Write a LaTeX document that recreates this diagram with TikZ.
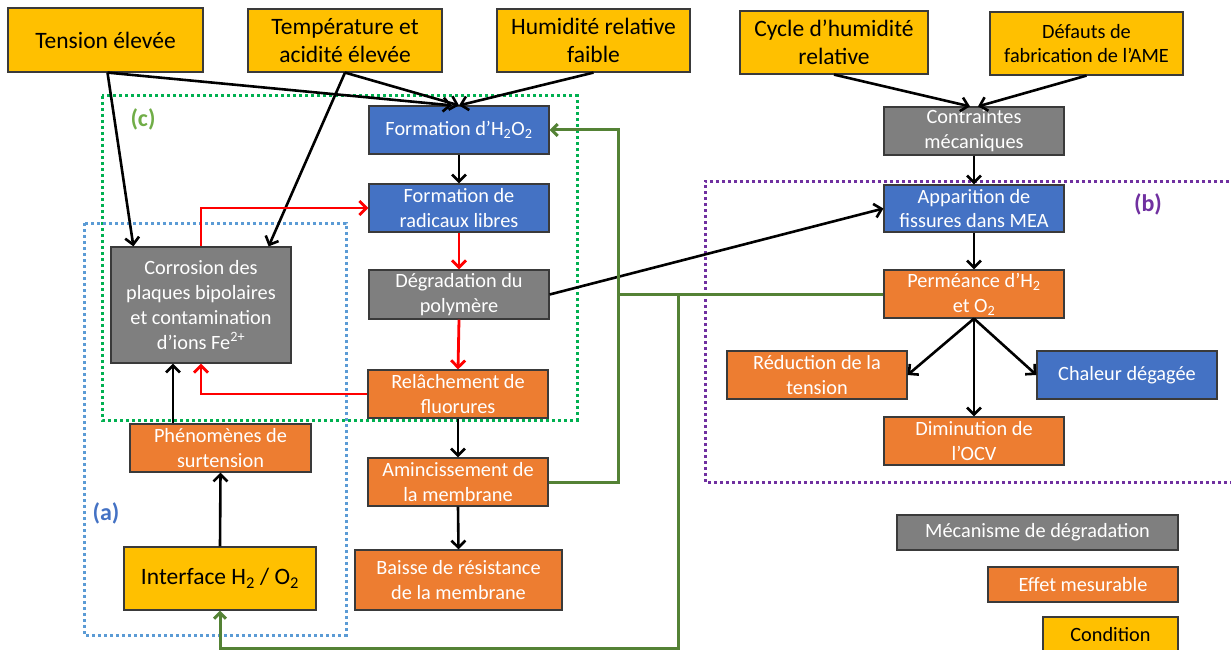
\documentclass[tikz,border=0pt]{standalone}
\usepackage{fontspec}
\setmainfont{Carlito}
\usetikzlibrary{arrows.meta,calc}
\definecolor{cyel}{HTML}{FFC000}
\definecolor{corg}{HTML}{ED7D31}
\definecolor{cblu}{HTML}{4472C4}
\definecolor{cgry}{HTML}{7F7F7F}
\definecolor{cgrn}{HTML}{548235}
\definecolor{cdotg}{HTML}{00B050}
\definecolor{cdotb}{HTML}{5B9BD5}
\definecolor{cpur}{HTML}{7030A0}
\definecolor{clabc}{HTML}{70AD47}
\definecolor{cbord}{HTML}{3A3A3A}
\begin{document}
\begin{tikzpicture}[x=1pt,y=-1pt,
  box/.style={draw=cbord,line width=1.2pt,align=center,inner sep=1pt,
    font=\fontsize{20.3}{24.8}\selectfont,text=white},
  ybox/.style={box,fill=cyel,text=black},
  obox/.style={box,fill=corg},
  bbox/.style={box,fill=cblu},
  gbox/.style={box,fill=cgry},
  big/.style={font=\fontsize{23.5}{28.5}\selectfont},
  arr/.style={line width=2.6pt,black,-{Straight Barb[length=7pt,width=14pt]}},
  rarr/.style={line width=2.8pt,red,-{Straight Barb[length=7pt,width=14pt]}},
  gline/.style={line width=3pt,cgrn},
  garr/.style={gline,-{Straight Barb[length=6pt,width=12pt]}},
  dotline/.style={line width=3pt,dash pattern=on 3pt off 3pt},
  lab/.style={font=\fontsize{24}{28}\selectfont\bfseries}
]
\useasboundingbox (0,0) rectangle (1231,650);
% dotted groups
\draw[dotline,cdotg] (102,96) rectangle (577,420);
\draw[dotline,cdotb] (84,223) rectangle (346,635);
\draw[dotline,cpur] (1235,181) -- (705,181) -- (705,482) -- (1235,482);
\node[lab,text=clabc] (lc) at (143,119) {(c)};
\node[lab,text=cblu] (la) at (106,513) {(a)};
\node[lab,text=cpur] (lb) at (1148,204) {(b)};
% nodes
\node[ybox,big,minimum width=195pt,minimum height=64pt] (ten) at (105.5,40) {Tension élevée};
\node[ybox,big,minimum width=194pt,minimum height=63pt] (tem) at (345,40.5) {Température et\\acidité élevée};
\node[ybox,big,minimum width=193pt,minimum height=63pt] (hum) at (593.5,40.5) {Humidité relative\\faible};
\node[ybox,big,minimum width=188pt,minimum height=63pt] (cyc) at (834,42.5) {Cycle d’humidité\\relative};
\node[ybox,minimum width=193pt,minimum height=63pt] (def) at (1086.5,43.5) {Défauts de\\fabrication de l’AME};
\node[bbox,minimum width=180pt,minimum height=48pt] (h2o2) at (459,130) {Formation d’H\textsubscript{2}O\textsubscript{2}};
\node[bbox,minimum width=180pt,minimum height=48pt] (rad) at (459,208) {Formation de\\radicaux libres};
\node[gbox,minimum width=180pt,minimum height=49pt] (deg) at (459,294.5) {Dégradation du\\polymère};
\node[gbox,minimum width=180pt,minimum height=116pt] (cor) at (201,305) {Corrosion des\\plaques bipolaires\\et contamination\\d’ions Fe\textsuperscript{2+}};
\node[obox,minimum width=180pt,minimum height=48pt] (rel) at (458,394) {Relâchement de\\fluorures};
\node[obox,minimum width=181pt,minimum height=48pt] (phe) at (220.5,448) {Phénomènes de\\surtension};
\node[ybox,big,minimum width=192pt,minimum height=63pt] (int) at (220,578.5) {Interface H\textsubscript{2} / O\textsubscript{2}};
\node[obox,minimum width=180pt,minimum height=48pt] (ami) at (458,482) {Amincissement de\\la membrane};
\node[obox,minimum width=207pt,minimum height=60pt] (bai) at (458.5,580) {Baisse de résistance\\de la membrane};
\node[gbox,minimum width=180pt,minimum height=48pt] (con) at (974,131) {Contraintes\\mécaniques};
\node[bbox,minimum width=180pt,minimum height=47pt] (app) at (974,208.5) {Apparition de\\fissures dans MEA};
\node[obox,minimum width=180pt,minimum height=48pt] (per) at (974,294) {Perméance d’H\textsubscript{2}\\et O\textsubscript{2}};
\node[obox,minimum width=180pt,minimum height=48pt] (red) at (817,375) {Réduction de la\\tension};
\node[bbox,minimum width=180pt,minimum height=48pt] (cha) at (1127,375) {Chaleur dégagée};
\node[obox,minimum width=180pt,minimum height=48pt] (dim) at (974,441) {Diminution de\\l’OCV};
\node[gbox,minimum width=281pt,minimum height=35pt] (leg1) at (1037.5,532.5) {Mécanisme de dégradation};
\node[obox,minimum width=190pt,minimum height=35pt] (leg2) at (1083,584.5) {Effet mesurable};
\node[ybox,minimum width=135pt,minimum height=35pt] (leg3) at (1110.5,634.5) {Condition};
% coordinates
\coordinate (gx) at (618,300);
\coordinate (gy) at (678,294);
\coordinate (gb) at (678,648);
% black arrows
\draw[arr] ([xshift=2pt]ten.south) -- ([xshift=23pt]cor.north west);
\draw[arr] ([xshift=2pt]ten.south) -- ([xshift=-7pt]h2o2.north);
\draw[arr] (tem.south) -- ([xshift=-23pt]cor.north east);
\draw[arr] (tem.south) -- (h2o2.north);
\draw[arr] (hum.south) -- (h2o2.north);
\draw[arr] (h2o2.south) -- (rad.north);
\draw[arr] (rel.south) -- (ami.north);
\draw[arr] (ami.south) -- (bai.north);
\draw[arr] ([xshift=-47.5pt]phe.north) -- ([xshift=-47.5pt]phe.north |- cor.south);
\draw[arr] (int.north) -- (phe.south);
\draw[arr] (deg.east) -- (app.west);
\draw[arr] (cyc.south) -- ([xshift=-4pt]con.north);
\draw[arr] (def.south) -- ([xshift=4pt]con.north);
\draw[arr] (con.south) -- (app.north);
\draw[arr] (app.south) -- (per.north);
\draw[arr] (per.south) -- (red.east);
\draw[arr] (per.south) -- (cha.west);
\draw[arr] (per.south) -- (dim.north);
% red arrows
\draw[rarr] (cor.north) |- (rad.west);
\draw[rarr] (rad.south) -- (deg.north);
\draw[rarr] (deg.south) -- (rel.north);
\draw[rarr] (rel.west) -| (cor.south);
% green
\draw[garr] (ami.east) -| (gx) |- (h2o2.east);
\draw[gline] (per.west) -- (per.west -| gx);
\draw[garr] (gy) -- (gb) -| (int.south);
\end{tikzpicture}
\end{document}
